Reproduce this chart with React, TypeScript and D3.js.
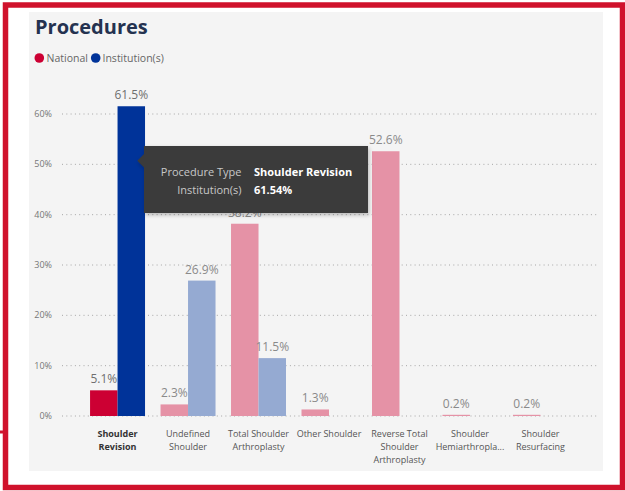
import React from "react";
import * as d3 from "d3";

const categories = [
  "Shoulder Revision",
  "Undefined Shoulder",
  "Total Shoulder Arthroplasty",
  "Other Shoulder",
  "Reverse Total Shoulder Arthroplasty",
  "Shoulder Hemiarthroplasty",
  "Shoulder Resurfacing",
];
const categoryLabelLines = [
  ["Shoulder", "Revision"],
  ["Undefined", "Shoulder"],
  ["Total Shoulder", "Arthroplasty"],
  ["Other Shoulder"],
  ["Reverse Total", "Shoulder", "Arthroplasty"],
  ["Shoulder", "Hemiarthropla..."],
  ["Shoulder", "Resurfacing"],
];
const nationalValues = [5.1, 2.3, 38.2, 1.3, 52.6, 0.2, 0.2];
const institutionValues: (number | null)[] = [61.54, 26.9, 11.5, null, null, null, null];
const yTicks = [0, 10, 20, 30, 40, 50, 60];
const seriesNames = ["National", "Institution(s)"];
const highlighted = "Shoulder Revision";

const FONT = "'Segoe UI', 'Open Sans', 'Noto Sans', sans-serif";

export default function App() {
  const W = 625, H = 491;
  const x = d3
    .scaleBand<string>()
    .domain(categories)
    .range([82.3, 575.7])
    .paddingInner(0.22)
    .paddingOuter(0.11);
  const sub = d3.scaleBand<string>().domain(seriesNames).range([0, x.bandwidth()]);
  const y = d3.scaleLinear().domain([0, 60]).range([416, 114]);

  const colors = {
    National: { on: "#cc0033", off: "#e592a6" },
    "Institution(s)": { on: "#003399", off: "#95aad2" },
  } as const;

  const fmt = (v: number) => d3.format(".1f")(v) + "%";

  const bars: any[] = [];
  categories.forEach((c, i) => {
    const vals = [nationalValues[i], institutionValues[i]];
    vals.forEach((v, j) => {
      if (v == null) return;
      const s = seriesNames[j] as "National" | "Institution(s)";
      bars.push({ c, s, v, on: c === highlighted });
    });
  });

  return (
    <svg
      width={W}
      height={H}
      style={{ position: "absolute", left: 0, top: 0, display: "block" }}
      fontFamily={FONT}
    >
      <defs>
        <filter id="shadow" x="-10%" y="-20%" width="125%" height="150%">
          <feDropShadow dx="1" dy="2" stdDeviation="2" floodColor="#000" floodOpacity="0.25" />
        </filter>
      </defs>
      <rect x={0} y={0} width={W} height={H} fill="#ffffff" />
      <rect x={29} y={12} width={574} height={459} fill="#f4f4f4" />
      {/* border */}
      <rect x={5.5} y={5} width={617} height={482.5} fill="none" stroke="#d0122c" strokeWidth={5.5} />
      <rect x={0} y={430.5} width={8} height={3} fill="#d0122c" />

      {/* title */}
      <text x={35} y={34} fontSize={20} fontWeight={700} fill="#243250">
        Procedures
      </text>

      {/* legend */}
      <circle cx={39.3} cy={58} r={4.8} fill={colors.National.on} />
      <text x={46.5} y={61.8} fontSize={10.5} fill="#666">
        National
      </text>
      <circle cx={95.7} cy={58} r={4.8} fill={colors["Institution(s)"].on} />
      <text x={102.5} y={61.8} fontSize={10.5} fill="#666">
        Institution(s)
      </text>

      {/* gridlines + y labels */}
      {yTicks.map((t) => (
        <g key={t}>
          <line
            x1={62}
            x2={598}
            y1={y(t)}
            y2={y(t)}
            stroke="#a6a6a6"
            strokeWidth={1}
            strokeDasharray="1 3.3"
          />
          <text x={52} y={y(t) + 3} fontSize={9} textAnchor="end" fill="#777">
            {t}%
          </text>
        </g>
      ))}

      {/* bars */}
      {bars.map((b, k) => {
        const bx = (x(b.c) ?? 0) + (sub(b.s) ?? 0);
        const bw = sub.bandwidth();
        const top = Math.min(y(b.v), y(0) - 1.2);
        const col = (colors as any)[b.s];
        return (
          <g key={k}>
            <rect x={bx} y={top} width={bw} height={y(0) - top} fill={b.on ? col.on : col.off} />
            <text
              x={bx + bw / 2}
              y={y(b.v) - 7}
              fontSize={12}
              textAnchor="middle"
              fill={b.on ? "#6f6f6f" : "#8a8a8a"}
            >
              {fmt(b.v)}
            </text>
          </g>
        );
      })}

      {/* x labels */}
      {categories.map((c, i) => {
        const cx = (x(c) ?? 0) + x.bandwidth() / 2;
        const on = c === highlighted;
        return (
          <text
            key={c}
            textAnchor="middle"
            fontSize={9}
            fontWeight={on ? 700 : 400}
            fill={on ? "#333" : "#555"}
          >
            {categoryLabelLines[i].map((l, li) => (
              <tspan key={li} x={cx} y={437 + li * 13}>
                {l}
              </tspan>
            ))}
          </text>
        );
      })}

      {/* tooltip */}
      <g filter="url(#shadow)">
        <path d="M144,146 H368 V213 H144 V167.5 L137.3,160.7 L144,154 Z" fill="#3a3a3a" />
      </g>
      <text x={241.5} y={176} fontSize={11} textAnchor="end" fill="#c8c8c8">
        Procedure Type
      </text>
      <text x={254} y={176} fontSize={11} fontWeight={700} fill="#ffffff">
        {highlighted}
      </text>
      <text x={241.5} y={194} fontSize={11} textAnchor="end" fill="#c8c8c8">
        Institution(s)
      </text>
      <text x={254} y={194} fontSize={11} fontWeight={700} fill="#ffffff">
        {d3.format(".2f")(institutionValues[0] as number)}%
      </text>
    </svg>
  );
}
